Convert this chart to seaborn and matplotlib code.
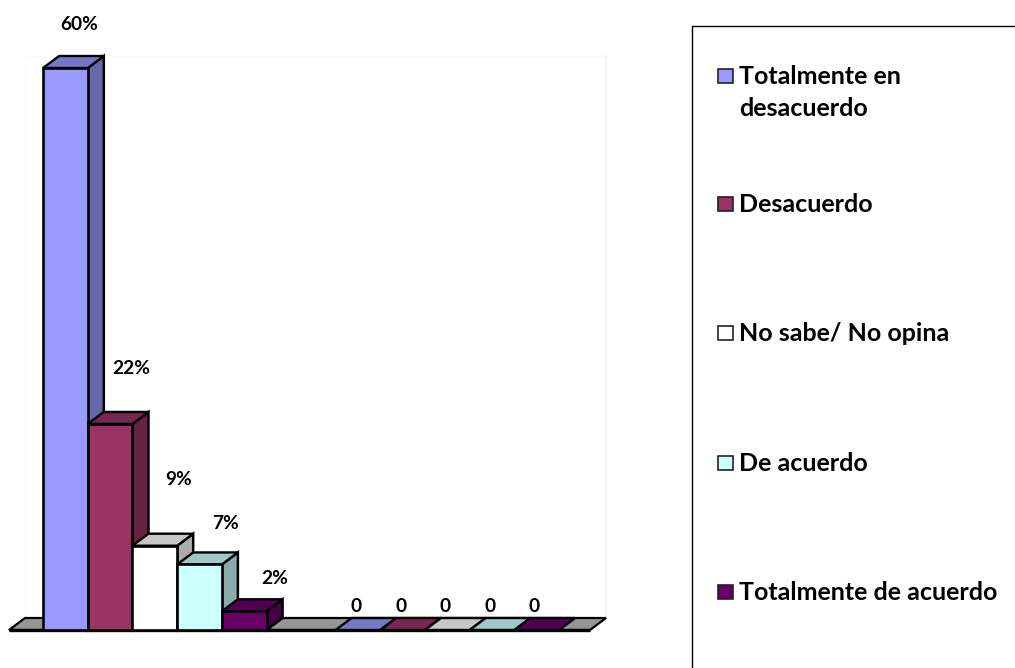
import pandas as pd
import seaborn as sns
import matplotlib.pyplot as plt
from matplotlib.patches import Polygon, Rectangle

categorias = ['Totalmente en\ndesacuerdo', 'Desacuerdo', 'No sabe/ No opina', 'De acuerdo', 'Totalmente de acuerdo']
grupos = ['A', 'B']
valores_a = [60, 22, 9, 7, 2]
valores_b = [0, 0, 0, 0, 0]
etiquetas = ['60%', '22%', '9%', '7%', '2%', '0', '0', '0', '0', '0']
colores = ['#9999FF', '#993366', '#FFFFFF', '#CCFFFF', '#660066']

# label offsets from the bar top centre, in pixels as placed in the original
off_x = [13.5, 21.5, 24, 26, 30, -2, -2, -2.5, -2.5, -2.5]
off_y = [43, 55, 66, 41, 33, 24, 24, 24, 24, 24]

W, H = 1015, 668
TOP_SHADE, SIDE_SHADE = 0.78, 0.67

df = pd.DataFrame({
    'grupo': [grupos[0]] * 5 + [grupos[1]] * 5,
    'respuesta': categorias * 2,
    'valor': valores_a + valores_b,
})

sns.set_theme(style='white')
plt.rcParams['font.family'] = ['Lato', 'DejaVu Sans']
plt.rcParams['font.weight'] = 'bold'


def shade(color, k):
    r, g, b = plt.matplotlib.colors.to_rgb(color)
    return (r * k, g * k, b * k)


def fx(px):
    return px / W


def fy(py):
    return 1 - py / H


fig = plt.figure(figsize=(W / 100, H / 100), dpi=100, facecolor='white')
ax = fig.add_axes([fx(9), fy(630), fx(581), (630 - 68) / H])
sns.barplot(data=df, x='grupo', y='valor', hue='respuesta', hue_order=categorias,
            palette=colores, saturation=1, width=0.764, gap=0, edgecolor='black',
            linewidth=1.9, legend=False, ax=ax)
ax.set_xlim(-0.4985, 1.4875)
ax.set_ylim(0, 60)
ax.axis('off')

# depth of the fake 3d, in data units
dx = 16 / 292.5
dy = 12 / (562 / 60)
x0_ax, x1_ax = ax.get_xlim()

# faint back wall
ax.plot([x0_ax + dx, x0_ax + dx], [dy, 60 + dy], color='#fcfcfc', lw=1, clip_on=False, zorder=0)
ax.plot([x0_ax + dx, x1_ax + dx], [60 + dy, 60 + dy], color='#fafafa', lw=1, clip_on=False, zorder=0)
ax.plot([x1_ax + dx, x1_ax + dx], [60 + dy, dy], color='#f3f3f3', lw=1.5, clip_on=False, zorder=0)

# floor
ax.add_patch(Polygon([(x0_ax, 0), (x0_ax + dx, dy), (x1_ax + dx, dy), (x1_ax, 0)], closed=True,
                     facecolor='#969696', edgecolor='black', lw=1.6, clip_on=False, zorder=1))
ax.plot([x0_ax, x1_ax], [0, 0], color='black', lw=2.4, clip_on=False, zorder=1.5, solid_capstyle='butt')

barras = sorted([p for p in ax.patches if isinstance(p, Rectangle)], key=lambda p: p.get_x())
for i, bar in enumerate(barras):
    x0 = bar.get_x()
    x1 = x0 + bar.get_width()
    alto = bar.get_height()
    color = bar.get_facecolor()
    z = 2 + i
    bar.set_clip_on(False)
    bar.set_zorder(z + 0.2)
    if alto > 0:
        ax.add_patch(Polygon([(x1, 0), (x1 + dx, dy), (x1 + dx, alto + dy), (x1, alto)], closed=True,
                             facecolor=shade(color, SIDE_SHADE), edgecolor='black', lw=1.8,
                             clip_on=False, zorder=z))
    ax.add_patch(Polygon([(x0, alto), (x0 + dx, alto + dy), (x1 + dx, alto + dy), (x1, alto)], closed=True,
                         facecolor=shade(color, TOP_SHADE), edgecolor='black', lw=1.7,
                         clip_on=False, zorder=z + 0.1))
    ax.annotate(etiquetas[i], xy=((x0 + x1) / 2, alto), xytext=(off_x[i] * 0.72, off_y[i] * 0.72),
                textcoords='offset points', ha='center', va='center', fontsize=13.8,
                fontweight='bold', color='black', annotation_clip=False, zorder=40)

# legend panel, runs off the right and bottom edges like the original
fig.add_artist(plt.Line2D([fx(692), fx(692), 1], [0, fy(26), fy(26)], color='black', lw=1))

leyenda_y = [76, 204, 333, 463, 592]
for nombre, color, y in zip(categorias, colores, leyenda_y):
    fig.add_artist(Rectangle((fx(718), fy(y + 7)), 15 / W, 14 / H, transform=fig.transFigure,
                             facecolor=color, edgecolor='#222222', lw=1.2))
    fig.text(fx(739), fy(y - 11), nombre, ha='left', va='top', fontsize=18, fontweight='bold',
             color='black', linespacing=1.45)

fig.savefig('out.png', dpi=100)
